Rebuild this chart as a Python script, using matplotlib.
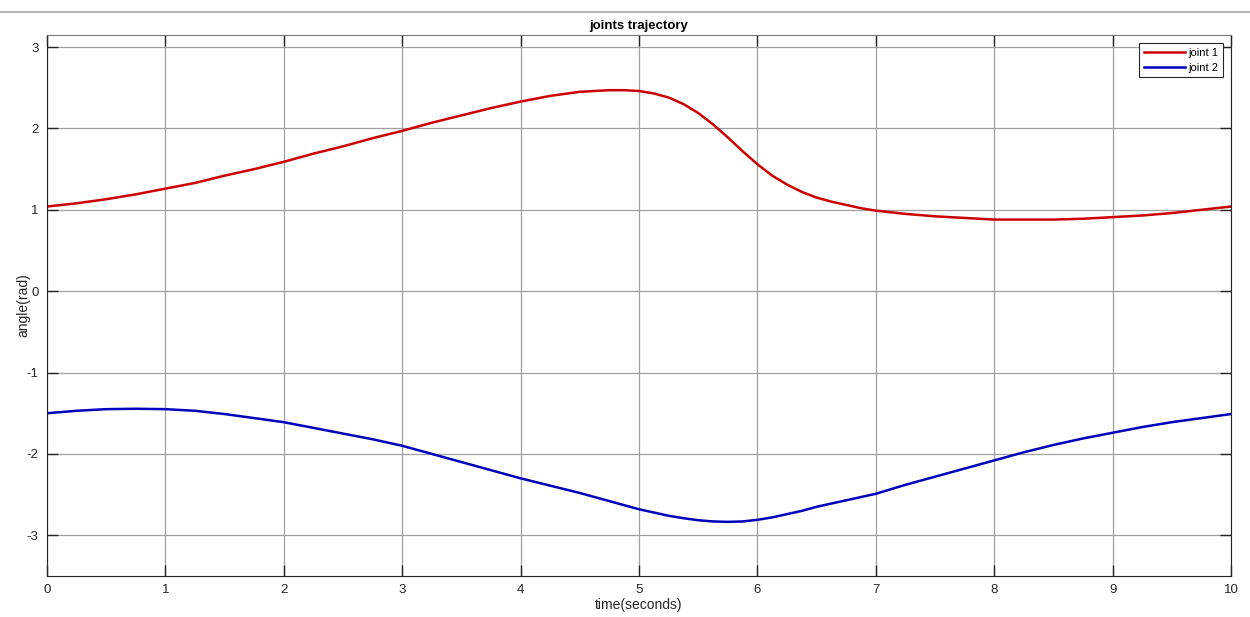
import numpy as np
import matplotlib.pyplot as plt
from matplotlib.lines import Line2D

plt.rcParams['font.family'] = ['Liberation Sans', 'DejaVu Sans']
plt.rcParams['axes.unicode_minus'] = False

# time samples (seconds), denser where joint 1 bends sharply
t = [0, 0.25, 0.5, 0.75, 1, 1.25, 1.5, 1.75, 2, 2.25,
     2.5, 2.75, 3, 3.25, 3.5, 3.75, 4, 4.25, 4.5, 4.75,
     4.875, 5, 5.125, 5.25, 5.375, 5.5, 5.625, 5.75, 5.875, 6,
     6.125, 6.25, 6.375, 6.5, 6.625, 6.75, 6.875, 7, 7.25, 7.5,
     7.75, 8, 8.25, 8.5, 8.75, 9, 9.25, 9.5, 9.75, 10]

# joint angles (rad)
joint1 = [1.04, 1.08, 1.13, 1.19, 1.26, 1.33, 1.42, 1.50, 1.59, 1.69,
          1.78, 1.88, 1.97, 2.07, 2.16, 2.25, 2.33, 2.40, 2.45, 2.47,
          2.47, 2.46, 2.43, 2.38, 2.30, 2.19, 2.05, 1.89, 1.72, 1.56,
          1.42, 1.31, 1.22, 1.15, 1.10, 1.06, 1.02, 0.99, 0.95, 0.92,
          0.90, 0.88, 0.88, 0.88, 0.89, 0.91, 0.93, 0.96, 1.00, 1.04]
joint2 = [-1.50, -1.47, -1.45, -1.445, -1.45, -1.47, -1.51, -1.56, -1.61, -1.68,
          -1.75, -1.82, -1.90, -2.00, -2.10, -2.20, -2.30, -2.39, -2.48, -2.58,
          -2.63, -2.68, -2.72, -2.76, -2.79, -2.815, -2.83, -2.835, -2.83, -2.81,
          -2.78, -2.74, -2.70, -2.65, -2.61, -2.57, -2.53, -2.49, -2.38, -2.28,
          -2.18, -2.08, -1.98, -1.89, -1.81, -1.74, -1.67, -1.61, -1.56, -1.51]

xticks = np.arange(0, 11)
yticks = np.arange(-3, 4)

fig = plt.figure(figsize=(12.5, 6.17), dpi=100)
ax = fig.add_axes([0.0376, 0.0665, 0.9472, 0.877])

ax.plot(t, joint1, color='#cc0000', linewidth=1.8, label='joint 1')
ax.plot(t, joint2, color='#0000bb', linewidth=1.8, label='joint 2')

ax.set_xlim(0, 10)
ax.set_ylim(-3.5, 3.15)
ax.set_xticks(xticks)
ax.set_yticks(yticks)
ax.tick_params(direction='in', length=8, width=1, top=True, right=True,
               labelsize=9.5, colors='#262626', pad=6)
ax.grid(True, color='#a0a0a0', linewidth=0.9)
for side in ['left', 'bottom', 'right']:
    ax.spines[side].set_color('#262626')
ax.spines['top'].set_color('#777777')

ax.set_title('joints trajectory', fontsize=9.5, fontweight='bold', pad=4)
ax.set_xlabel('time(seconds)', fontsize=10, color='#262626', labelpad=1)
ax.set_ylabel('angle(rad)', fontsize=10, color='#262626', labelpad=-3)

leg = ax.legend(loc='upper right', fontsize=8, fancybox=False, framealpha=1,
                edgecolor='#262626', handlelength=3.7, handletextpad=0.3,
                borderpad=0.4, labelspacing=0.45, borderaxespad=0.75)
leg.get_frame().set_linewidth(0.8)

# grey strip left over at the top of the window
fig.add_artist(Line2D([0, 1], [1 - 12 / 617, 1 - 12 / 617], color='#b5b5b5',
                      linewidth=1.5, transform=fig.transFigure))

fig.savefig('out.png', dpi=100)
